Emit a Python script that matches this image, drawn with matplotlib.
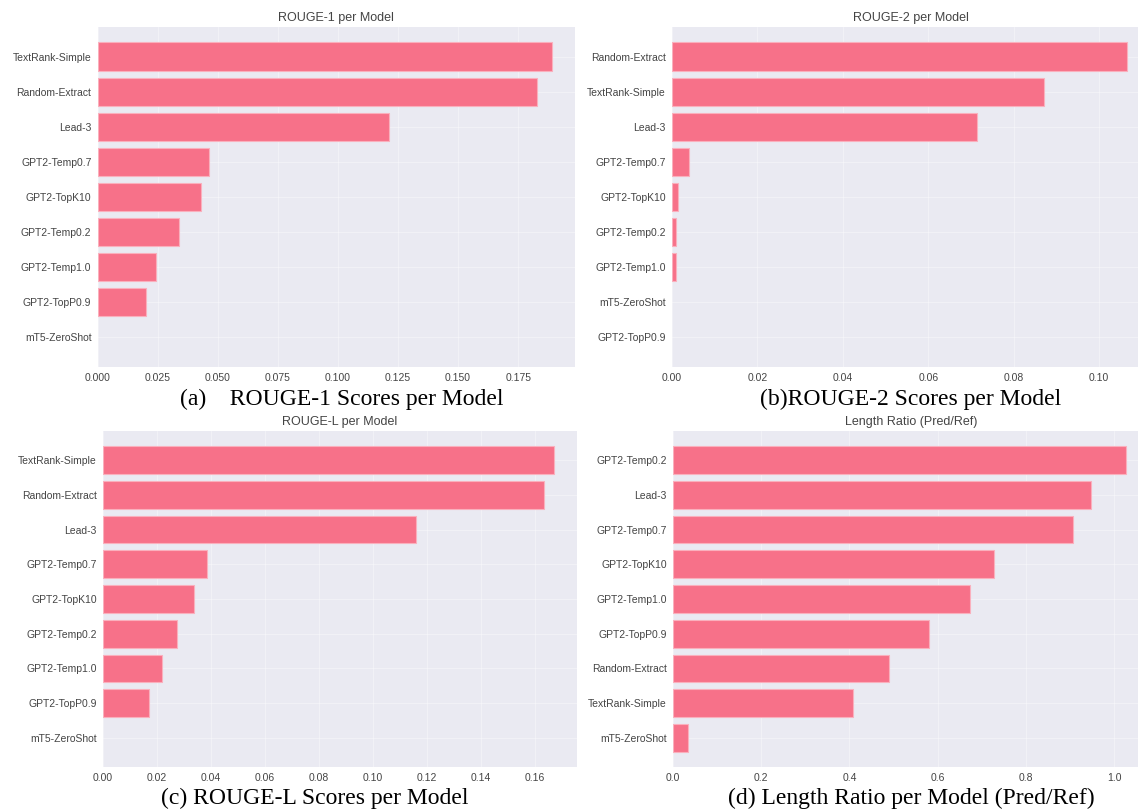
import numpy as np
import matplotlib
matplotlib.use('Agg')
import matplotlib.pyplot as plt

## Scores (top bar first)
r1_models = ['TextRank-Simple', 'Random-Extract', 'Lead-3', 'GPT2-Temp0.7', 'GPT2-TopK10',
             'GPT2-Temp0.2', 'GPT2-Temp1.0', 'GPT2-TopP0.9', 'mT5-ZeroShot']
r1_scores = [0.1892, 0.1830, 0.1211, 0.0464, 0.0430, 0.0337, 0.0242, 0.0202, 0.0]

r2_models = ['Random-Extract', 'TextRank-Simple', 'Lead-3', 'GPT2-Temp0.7', 'GPT2-TopK10',
             'GPT2-Temp0.2', 'GPT2-Temp1.0', 'mT5-ZeroShot', 'GPT2-TopP0.9']
r2_scores = [0.1066, 0.0872, 0.0714, 0.0040, 0.0013, 0.0010, 0.0010, 0.0, 0.0]

rl_models = ['TextRank-Simple', 'Random-Extract', 'Lead-3', 'GPT2-Temp0.7', 'GPT2-TopK10',
             'GPT2-Temp0.2', 'GPT2-Temp1.0', 'GPT2-TopP0.9', 'mT5-ZeroShot']
rl_scores = [0.1671, 0.1631, 0.1157, 0.0384, 0.0335, 0.0274, 0.0219, 0.0170, 0.0]

len_models = ['GPT2-Temp0.2', 'Lead-3', 'GPT2-Temp0.7', 'GPT2-TopK10', 'GPT2-Temp1.0',
              'GPT2-TopP0.9', 'Random-Extract', 'TextRank-Simple', 'mT5-ZeroShot']
len_ratio = [1.028, 0.948, 0.906, 0.729, 0.674, 0.580, 0.490, 0.408, 0.033]

titles = ['ROUGE-1 per Model', 'ROUGE-2 per Model', 'ROUGE-L per Model', 'Length Ratio (Pred/Ref)']
captions = ['(a)    ROUGE-1 Scores per Model', '(b)ROUGE-2 Scores per Model',
            '(c) ROUGE-L Scores per Model', '(d) Length Ratio per Model (Pred/Ref)']

plt.style.use('seaborn-v0_8-darkgrid')
plt.rcParams['font.family'] = ['Liberation Sans', 'DejaVu Sans']

W, H = 1138, 811
fig = plt.figure(figsize=(W / 100, H / 100), dpi=100)

def px_axes(left, top, width, height):
    # pixel box -> figure fraction
    return fig.add_axes([left / W, (H - top - height) / H, width / W, height / H])

boxes = [(97.7, 27, 477.3, 340), (672, 27, 478, 340),
         (103, 431, 474, 336), (673, 431, 476, 336)]
data = [(r1_models, r1_scores), (r2_models, r2_scores),
        (rl_models, rl_scores), (len_models, len_ratio)]

for box, (models, vals), title in zip(boxes, data, titles):
    ax = px_axes(*box)
    edges = ['#fab0bd' if v > 0 else 'none' for v in vals]  # no sliver for zero bars
    ax.barh(models, vals, color='#f77189', edgecolor=edges, linewidth=0.8)
    ax.invert_yaxis()
    ax.set_facecolor('#eaeaf2')
    ax.grid(True, color='white', linewidth=0.8, alpha=0.35)
    ax.set_title(title, fontsize=9, color='#444444', pad=4)
    ax.tick_params(axis='both', labelsize=7.5, colors='#444444', length=0, pad=4.5)

## Figure captions (Times-like)
cap_pos = [(342, 399), (911, 399), (315, 798), (911, 798)]
for (cx, cy), txt in zip(cap_pos, captions):
    fig.text(cx / W, 1 - cy / H, txt, ha='center', va='center',
             fontsize=17, family='Liberation Serif', color='black')

fig.savefig('out.png', dpi=100)
